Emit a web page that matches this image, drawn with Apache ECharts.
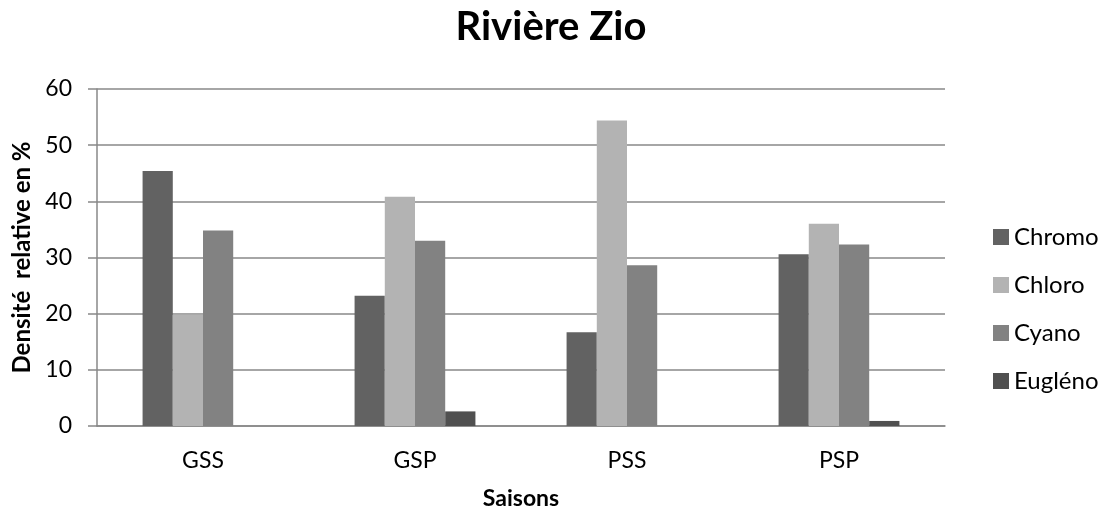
<!DOCTYPE html>
<html><head><meta charset="utf-8">
<script src="https://cdn.jsdelivr.net/npm/echarts@6/dist/echarts.min.js"></script>
<style>html,body{margin:0;padding:0;background:#fff}#c{width:1102px;height:515px}</style>
</head><body><div id="c"></div>
<script>
const categories = ['GSS', 'GSP', 'PSS', 'PSP'];
const seriesNames = ['Chromo', 'Chloro', 'Cyano', 'Eugléno'];
const chromo = [45.4, 23.2, 16.7, 30.6];
const chloro = [19.8, 40.8, 54.4, 36.0];
const cyano = [34.8, 33.0, 28.6, 32.3];
const eugleno = [0, 2.6, 0, 0.9];
const yTicks = [0, 10, 20, 30, 40, 50, 60];
const colors = ['#626262', '#b3b3b3', '#828282', '#505050'];
const values = [chromo, chloro, cyano, eugleno];
const font = 'Lato, "Open Sans", sans-serif';
const chart = echarts.init(document.getElementById('c'));
chart.setOption({
  animation: false,
  title: { text: 'Rivière Zio', left: 'center', top: 2,
    textStyle: { fontFamily: font, fontSize: 40, fontWeight: 'bold', color: '#000' } },
  grid: { left: 97, right: 157, top: 89, bottom: 85 },
  legend: { orient: 'vertical', left: 988, top: 220, itemWidth: 16, itemHeight: 16, itemGap: 24,
    icon: 'rect', textStyle: { fontFamily: font, fontSize: 24, color: '#000' },
    data: seriesNames },
  xAxis: { type: 'category', data: categories,
    name: 'Saisons', nameLocation: 'middle', nameGap: 61,
    nameTextStyle: { fontFamily: font, fontSize: 23, fontWeight: 'bold', color: '#000' },
    axisLine: { lineStyle: { color: '#888', width: 1.5 } },
    axisTick: { show: false },
    axisLabel: { fontFamily: font, fontSize: 23, color: '#000', margin: 23 } },
  yAxis: { type: 'value', min: 0, max: 60, interval: 10,
    name: 'Densité  relative en %', nameLocation: 'middle', nameGap: 62,
    nameTextStyle: { fontFamily: font, fontSize: 24, fontWeight: 'bold', color: '#000' },
    axisLine: { show: true, lineStyle: { color: '#888', width: 1.5 } },
    axisTick: { show: true, length: 9, lineStyle: { color: '#888', width: 1.5 } },
    splitLine: { lineStyle: { color: '#888', width: 1.5 } },
    axisLabel: { fontFamily: font, fontSize: 23, color: '#000', margin: 25,
      formatter: v => yTicks.includes(v) ? String(v) : '' } },
  series: seriesNames.map((n, i) => ({
    name: n, type: 'bar', data: values[i], barGap: '0%', barCategoryGap: '43%',
    itemStyle: { color: colors[i] }
  }))
});
</script></body></html>
